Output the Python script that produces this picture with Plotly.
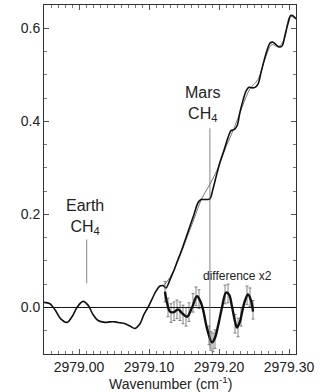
import plotly.graph_objects as go

def px2w(p):
    return 2979.00 + (p - 79) / 700.0

# Observed spectrum (wavenumber, value)
spec_px = [44, 50, 55, 61, 67, 72, 77, 83, 88, 93, 98, 105, 110, 115, 120, 125, 130, 135, 140, 144, 148, 152, 156, 160, 163, 166,
           170, 174, 178, 182, 186, 190, 194, 198, 201, 204, 207, 210, 213, 216, 220, 224, 228, 231, 234, 237, 240, 243, 246,
           249, 252, 255, 258, 261, 264, 267, 270, 273, 276, 279, 282, 285, 288, 291, 294, 296]
spec_y = [0.011, 0.008, -0.005, -0.025, -0.032, -0.02, 0.0, 0.013, 0.005, -0.015, -0.028, -0.032, -0.031, -0.031, -0.033,
          -0.035, -0.04, -0.045, -0.035, -0.015, 0.0, 0.018, 0.035, 0.046, 0.047, 0.042,
          0.06, 0.08, 0.103, 0.125, 0.15, 0.175, 0.2, 0.225, 0.232, 0.232, 0.232, 0.234, 0.255, 0.28, 0.312, 0.338, 0.365,
          0.38, 0.382, 0.39, 0.42, 0.445, 0.465, 0.473, 0.472, 0.473, 0.48, 0.505, 0.53, 0.552, 0.568, 0.57, 0.565, 0.56,
          0.562, 0.585, 0.61, 0.628, 0.625, 0.62]
spec_x = [px2w(p) for p in spec_px]

# Model spectrum (thin gray)
model_px = [163, 170, 178, 186, 194, 202, 210, 218, 226, 234, 242, 250, 258, 266, 272, 278, 284, 290, 296]
model_y = [0.045, 0.065, 0.1, 0.145, 0.19, 0.235, 0.265, 0.3, 0.345, 0.385, 0.43, 0.47, 0.49, 0.54, 0.565, 0.56, 0.575, 0.625, 0.62]
model_x = [px2w(p) for p in model_px]

# Difference x2 curve
diff_px = [165, 167, 170, 174, 178, 182, 187, 192, 197, 200, 203, 207, 212, 215, 218, 222, 226, 229, 232, 235, 237, 240, 242, 245, 248, 251, 253]
diff_y = [0.034, 0.01, -0.009, -0.01, -0.004, -0.012, -0.02, 0.0, 0.024, 0.015, -0.004, -0.045, -0.075, -0.065, -0.04, 0.0, 0.032, 0.028, 0.002, -0.03, -0.043, -0.03, -0.011, 0.015, 0.028, 0.015, -0.009]
diff_x = [px2w(p) for p in diff_px]

# Error bars on difference
err_px = [165, 168, 171, 174, 177, 180, 183, 186, 189, 193, 196, 199, 209, 211, 213, 215, 225, 228, 235, 238, 241, 247, 250, 253]
err_y = [0.034, 0.0, -0.012, -0.008, -0.004, -0.008, -0.015, -0.02, -0.01, 0.01, 0.024, 0.018, -0.06, -0.072, -0.075, -0.068, 0.028, 0.03, -0.035, -0.043, -0.02, 0.026, 0.022, -0.005]
err_e = [0.022, 0.02, 0.02, 0.02, 0.02, 0.02, 0.02, 0.02, 0.02, 0.02, 0.02, 0.02, 0.02, 0.02, 0.02, 0.02, 0.02, 0.02, 0.02, 0.02, 0.02, 0.02, 0.02, 0.02]
err_x = [px2w(p) for p in err_px]

x_ticks = [2979.00, 2979.10, 2979.20, 2979.30]
y_ticks = [0.0, 0.2, 0.4, 0.6]

earth_line = dict(x=2979.011, y0=0.052, y1=0.146)
mars_line = dict(x=2979.187, y0=-0.09, y1=0.385)

FONT = "Liberation Sans, Arial, sans-serif"

fig = go.Figure()
fig.add_trace(go.Scatter(x=model_x, y=model_y, mode="lines", line=dict(color="#777", width=1, shape="spline"), hoverinfo="skip"))
fig.add_trace(go.Scatter(x=spec_x, y=spec_y, mode="lines", line=dict(color="#111", width=1.6, shape="spline"), hoverinfo="skip"))
fig.add_trace(go.Scatter(x=err_x, y=err_y, mode="markers", marker=dict(size=0.1, color="rgba(0,0,0,0)"),
                         error_y=dict(type="data", array=err_e, color="#666", thickness=0.8, width=1.5), hoverinfo="skip"))
fig.add_trace(go.Scatter(x=diff_x, y=diff_y, mode="lines", line=dict(color="#111", width=2.4, shape="spline"), hoverinfo="skip"))

fig.add_shape(type="line", xref="paper", x0=0, x1=1, y0=0, y1=0, line=dict(color="#111", width=1))
for L in (earth_line, mars_line):
    fig.add_shape(type="line", x0=L["x"], x1=L["x"], y0=L["y0"], y1=L["y1"], line=dict(color="#666", width=0.8))

font_txt = dict(family=FONT, size=16, color="#222")
fig.add_annotation(x=2979.008, y=0.148, text="Earth<br>CH<sub>4</sub>", showarrow=False, yanchor="bottom", font=font_txt)
fig.add_annotation(x=2979.177, y=0.39, text="Mars<br>CH<sub>4</sub>", showarrow=False, yanchor="bottom", font=font_txt)
fig.add_annotation(x=2979.227, y=0.068, text="difference x2", showarrow=False, yanchor="middle",
                   font=dict(family=FONT, size=12, color="#222"))
# x-axis title
fig.add_annotation(xref="paper", yref="paper", x=0.5, y=0, yshift=-29, yanchor="middle",
                   text="Wavenumber (cm<sup>-1</sup>)", showarrow=False,
                   font=dict(family=FONT, size=14, color="#222"))

axis_common = dict(showgrid=False, zeroline=False, showline=True, linecolor="#333", linewidth=1, mirror="ticks",
                   ticks="inside", ticklen=5, tickcolor="#555",
                   tickfont=dict(family=FONT, size=14, color="#222"))
fig.update_xaxes(range=[2978.95, 2979.31], tickvals=x_ticks, ticktext=[f"{v:.2f}" for v in x_ticks],
                 minor=dict(dtick=0.01, ticks="inside", ticklen=3, tickcolor="#777"),
                 **axis_common)
fig.update_yaxes(range=[-0.1, 0.65], tickvals=y_ticks, ticktext=[f"{v:.1f}" for v in y_ticks],
                 minor=dict(dtick=0.05, ticks="inside", ticklen=3, tickcolor="#777"), **axis_common)

fig.update_layout(width=323, height=392, margin=dict(l=44, r=27, t=5, b=38), showlegend=False,
                  plot_bgcolor="white", paper_bgcolor="white")
fig.write_html("out.html")
